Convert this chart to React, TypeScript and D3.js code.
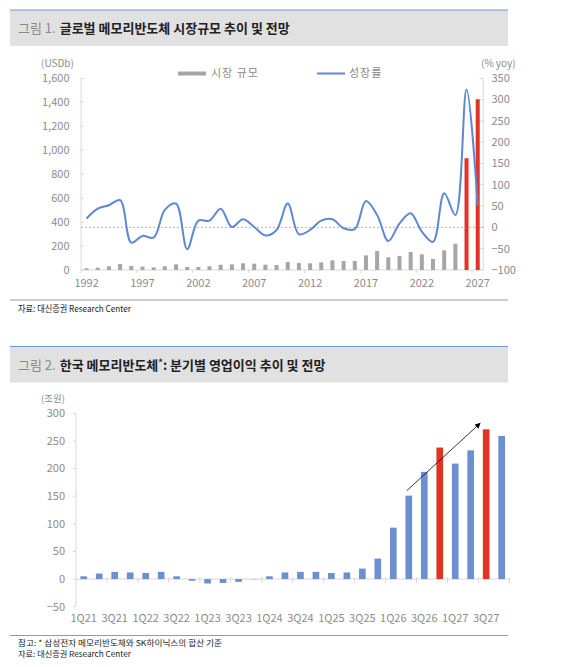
import React from 'react';
import * as d3 from 'd3';

// ---- chart 1: global memory market size (USDb) & growth (% yoy)
const years = [
  '1992', '1993', '1994', '1995', '1996', '1997', '1998', '1999', '2000', '2001', '2002', '2003',
  '2004', '2005', '2006', '2007', '2008', '2009', '2010', '2011', '2012', '2013', '2014', '2015',
  '2016', '2017', '2018', '2019', '2020', '2021', '2022', '2023', '2024', '2025', '2026', '2027',
];
const marketSize = [
  14, 19, 31, 50, 33, 28, 22, 31, 47, 25, 25, 31,
  44, 47, 56, 53, 44, 42, 67, 58, 56, 64, 81, 75,
  75, 122, 158, 106, 117, 150, 131, 92, 164, 219, 933, 1425,
];
const growth = [
  21, 44, 52, 64, -36, -20, -24, 41, 56, -51, 16, 16,
  44, 1, 19, 1, -19, -6, 56, -16, -6, 16, 19, -2,
  -4, 62, 29, -32, 9, 33, -10, -34, 80, 29, 324, 51,
];
const highlightYears = ['2026', '2027'];
const yearLabels = ['1992', '1997', '2002', '2007', '2012', '2017', '2022', '2027'];
const sizeTicks = [0, 200, 400, 600, 800, 1000, 1200, 1400, 1600];
const growthTicks = [-100, -50, 0, 50, 100, 150, 200, 250, 300, 350];

// ---- chart 2: Korean memory quarterly operating profit (조원)
const quarters = [
  '1Q21', '2Q21', '3Q21', '4Q21', '1Q22', '2Q22', '3Q22', '4Q22',
  '1Q23', '2Q23', '3Q23', '4Q23', '1Q24', '2Q24', '3Q24', '4Q24',
  '1Q25', '2Q25', '3Q25', '4Q25', '1Q26', '2Q26', '3Q26', '4Q26',
  '1Q27', '2Q27', '3Q27', '4Q27',
];
const opProfit = [
  5, 10, 13, 12, 11, 13, 5, -3,
  -8, -7, -5, -0.5, 5, 12, 13, 13,
  11, 12, 19, 37, 93, 151, 194, 238,
  209, 233, 271, 259,
];
const highlightQuarters = ['4Q26', '3Q27'];
const quarterLabels = ['1Q21', '3Q21', '1Q22', '3Q22', '1Q23', '3Q23', '1Q24', '3Q24', '1Q25', '3Q25', '1Q26', '3Q26', '1Q27', '3Q27'];
const profitTicks = [-50, 0, 50, 100, 150, 200, 250, 300];
const arrowFrom = { q: '2Q26', v: 160 };
const arrowTo = { q: '3Q27', v: 282 };

const FONT = "'Noto Sans CJK KR', 'Noto Sans', sans-serif";
const BLUE = '#5f87d3';
const BAR_BLUE = '#6b8fd0';
const RED = '#e03424';
const GREY_BAR = '#a6a6a6';
const AXIS = '#d9d9d9';
const TICK_TXT = '#8c8c8c';

function Header({ y, num, children }: { y: number; num: string; children: React.ReactNode }) {
  return (
    <g>
      <rect x={10} y={y} width={498} height={36} fill="#e1e1e1" />
      <line x1={10} x2={508} y1={y} y2={y} stroke="#7598dc" strokeWidth={1.2} />
      <text x={18} y={y + 23} fontFamily={FONT} fontSize={13} fill="#222">
        <tspan fill="#8a8a8a">{num}</tspan>
        <tspan fontWeight="bold" dx={4}>{children}</tspan>
      </text>
    </g>
  );
}

export default function App() {
  // chart 1 scales
  const x1 = d3.scaleBand().domain(years).range([81, 483.3]).paddingInner(0.64).paddingOuter(0.32);
  const ySize = d3.scaleLinear().domain([0, 1600]).range([270, 78.3]);
  const yGrowth = d3.scaleLinear().domain([-100, 350]).range([270, 78.3]);
  const fmtComma = d3.format(',');
  const fmtNum = d3.format('');
  const line = d3.line<number>()
    .x((_, i) => (x1(years[i]) || 0) + x1.bandwidth() / 2)
    .y(d => yGrowth(d))
    .curve(d3.curveCatmullRom.alpha(0.5));
  const gap1 = (x1.step() - x1.bandwidth()) / 2;

  // chart 2 scales
  const x2 = d3.scaleBand().domain(quarters).range([76, 509.4]).paddingInner(0.57).paddingOuter(0.285);
  const y2 = d3.scaleLinear().domain([-50, 300]).range([606.7, 413.3]);
  const step2 = x2.step();
  const gap2 = (step2 - x2.bandwidth()) / 2;
  const cx2 = (q: string) => (x2(q) || 0) + x2.bandwidth() / 2;
  const ax1 = cx2(arrowFrom.q) - 2;
  const ay1 = y2(arrowFrom.v);
  const ax2 = cx2(arrowTo.q) - 6;
  const ay2 = y2(arrowTo.v);

  return (
    <svg width={565} height={667} style={{ position: 'absolute', left: 0, top: 0, background: '#fff' }}>
      <defs>
        <marker id="arrowhead" viewBox="0 0 10 10" refX={9} refY={5} markerWidth={7} markerHeight={7} orient="auto">
          <path d="M0,0 L10,5 L0,10 Z" fill="#000" />
        </marker>
      </defs>

      {/* ===== Figure 1 ===== */}
      <Header y={10} num="그림 1.">글로벌 메모리반도체 시장규모 추이 및 전망</Header>

      {/* axes */}
      <line x1={81} x2={81} y1={78.3} y2={270} stroke={AXIS} />
      <line x1={483.3} x2={483.3} y1={78.3} y2={270} stroke={AXIS} />
      <line x1={81} x2={483.3} y1={270} y2={270} stroke={AXIS} />
      {sizeTicks.map(t => (
        <g key={'ls' + t}>
          <line x1={81} x2={84} y1={ySize(t)} y2={ySize(t)} stroke={AXIS} />
          <text x={69.5} y={ySize(t)} dy="0.35em" textAnchor="end" fontFamily={FONT} fontSize={11} fill={TICK_TXT}>
            {fmtComma(t)}
          </text>
        </g>
      ))}
      {growthTicks.map(t => (
        <g key={'rg' + t}>
          <line x1={479.3} x2={483.3} y1={yGrowth(t)} y2={yGrowth(t)} stroke={AXIS} />
          <text x={491.5} y={yGrowth(t)} dy="0.35em" textAnchor="start" fontFamily={FONT} fontSize={11} fill={TICK_TXT}>
            {fmtNum(t)}
          </text>
        </g>
      ))}
      {yearLabels.map(yr => (
        <g key={'yl' + yr}>
          <line x1={(x1(yr) || 0) - gap1} x2={(x1(yr) || 0) - gap1} y1={270} y2={273} stroke={AXIS} />
          <text x={(x1(yr) || 0) + x1.bandwidth() / 2} y={287} textAnchor="middle" fontFamily={FONT} fontSize={11} fill={TICK_TXT}>
            {yr}
          </text>
        </g>
      ))}
      <text x={41} y={67} fontFamily={FONT} fontSize={10} fill={TICK_TXT}>(USDb)</text>
      <text x={481} y={67} fontFamily={FONT} fontSize={10} fill={TICK_TXT}>(% yoy)</text>

      {/* zero growth reference */}
      <line x1={81} x2={483.3} y1={yGrowth(0)} y2={yGrowth(0)} stroke="#a0a0a0" strokeWidth={0.8} strokeDasharray="2,2" />

      {/* bars */}
      {years.map((yr, i) => (
        <rect key={'b' + yr} x={x1(yr)} y={ySize(marketSize[i])} width={x1.bandwidth()}
          height={270 - ySize(marketSize[i])} fill={highlightYears.includes(yr) ? RED : GREY_BAR} />
      ))}

      {/* growth line */}
      <path d={line(growth) || ''} fill="none" stroke={BLUE} strokeWidth={2} />

      {/* legend */}
      <rect x={178} y={71.5} width={28} height={4} fill={GREY_BAR} />
      <text x={211} y={73.5} dy="0.35em" fontFamily={FONT} fontSize={11} fill="#8a8a8a" letterSpacing={1}>시장 규모</text>
      <line x1={317} x2={345} y1={73.5} y2={73.5} stroke={BLUE} strokeWidth={2} />
      <text x={349} y={73.5} dy="0.35em" fontFamily={FONT} fontSize={11} fill="#8a8a8a" letterSpacing={1}>성장률</text>

      {/* source */}
      <line x1={10} x2={508} y1={300} y2={300} stroke="#9a9a9a" strokeWidth={1} />
      <text x={18} y={312} fontFamily={FONT} fontSize={9} fill="#222" textLength={113} lengthAdjust="spacingAndGlyphs">
        자료: 대신증권 Research Center
      </text>

      {/* ===== Figure 2 ===== */}
      <Header y={346.5} num="그림 2.">
        한국 메모리반도체<tspan fontSize={9} dy={-4}>*</tspan><tspan dy={4}>: 분기별 영업이익 추이 및 전망</tspan>
      </Header>

      <text x={41} y={401.5} fontFamily={FONT} fontSize={9.5} fill={TICK_TXT}>(조원)</text>
      <line x1={76} x2={76} y1={413.3} y2={606.7} stroke={AXIS} />
      {profitTicks.map(t => (
        <g key={'pt' + t}>
          <line x1={73} x2={76} y1={y2(t)} y2={y2(t)} stroke={AXIS} />
          <text x={65} y={y2(t)} dy="0.35em" textAnchor="end" fontFamily={FONT} fontSize={11} fill={TICK_TXT}>
            {fmtNum(t)}
          </text>
        </g>
      ))}
      <line x1={76} x2={509.4} y1={y2(0)} y2={y2(0)} stroke={AXIS} />
      {quarters.filter((_, i) => i % 2 === 0).map(q => (
        <line key={'qt' + q} x1={(x2(q) || 0) - gap2 + step2 * 2}
          x2={(x2(q) || 0) - gap2 + step2 * 2}
          y1={y2(0) - 2} y2={y2(0) + 4} stroke={AXIS} />
      ))}
      {quarters.map((q, i) => (
        <rect key={'qb' + q} x={x2(q)} y={y2(Math.max(0, opProfit[i]))} width={x2.bandwidth()}
          height={Math.abs(y2(opProfit[i]) - y2(0))}
          fill={highlightQuarters.includes(q) ? RED : BAR_BLUE} />
      ))}
      {quarterLabels.map(q => (
        <text key={'ql' + q} x={cx2(q)} y={621.5} textAnchor="middle" fontFamily={FONT} fontSize={11} fill={TICK_TXT}>
          {q}
        </text>
      ))}

      {/* trend arrow */}
      <line x1={ax1} y1={ay1} x2={ax2} y2={ay2} stroke="#000" strokeWidth={0.8} markerEnd="url(#arrowhead)" />

      {/* notes */}
      <line x1={10} x2={508} y1={635.5} y2={635.5} stroke="#9a9a9a" strokeWidth={1} />
      <text x={18} y={646} fontFamily={FONT} fontSize={8} fill="#222" textLength={204} lengthAdjust="spacingAndGlyphs">
        참고: * 삼성전자 메모리반도체와 SK하이닉스의 합산 기준
      </text>
      <text x={18} y={656.5} fontFamily={FONT} fontSize={8} fill="#222" textLength={113} lengthAdjust="spacingAndGlyphs">
        자료: 대신증권 Research Center
      </text>
    </svg>
  );
}
